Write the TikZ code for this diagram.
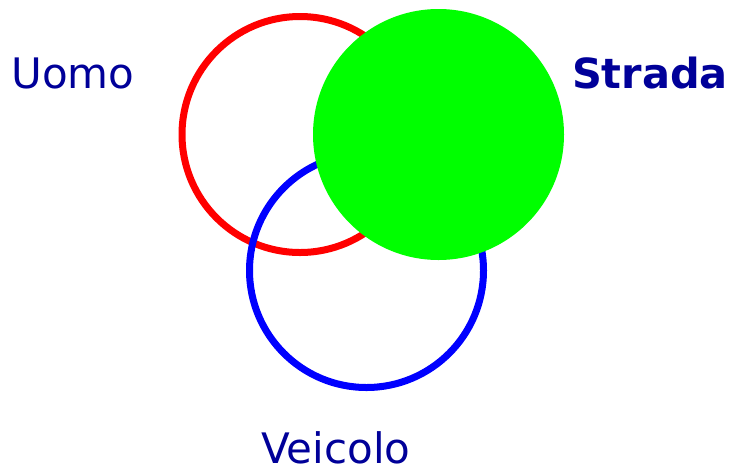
\documentclass[tikz,border=0pt]{standalone}
\usepackage{fontspec}
\setmainfont{DejaVu Sans}
\definecolor{lbl}{HTML}{000099}
\definecolor{gr}{HTML}{00FF00}
\begin{document}
\begin{tikzpicture}[x=1pt,y=-1pt,
  ring/.style={line width=7pt},
  lab/.style={text=lbl,font=\fontsize{42}{42}\selectfont,inner sep=0pt,anchor=base}]
\useasboundingbox (0,0) rectangle (730,472);
\draw[ring,red] (300,134.5) circle[radius=118];
\draw[ring,blue] (366.5,270.5) circle[radius=117];
\fill[gr] (438.5,134.5) circle[radius=125.5];
\node[lab] (uomo) at (73,88) {Uomo};
\node[lab,font=\fontsize{41.5}{42}\selectfont\bfseries] (strada) at (650,88) {Strada};
\node[lab] (veicolo) at (336,463) {Veicolo};
\end{tikzpicture}
\end{document}
